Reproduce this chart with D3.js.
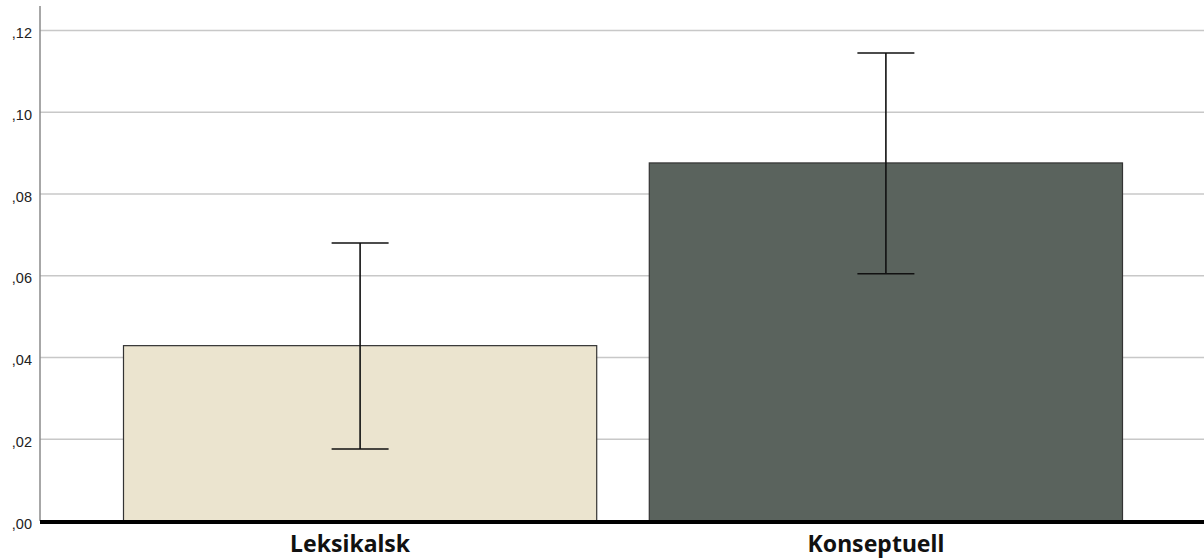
<!DOCTYPE html>
<html>
<head>
<meta charset="utf-8">
<script src="https://cdn.jsdelivr.net/npm/d3@7"></script>
<style>
  html, body { margin: 0; padding: 0; background: #fff; }
  svg { display: block; }
</style>
</head>
<body>
<svg id="chart" width="1204" height="560"></svg>
<script>
const categories = ["Leksikalsk", "Konseptuell"];
const means = [0.0429, 0.0876];
const lowerCI = [0.0176, 0.0605];
const upperCI = [0.0680, 0.1145];
const barColors = ["#ebe4cf", "#5a635d"];
const yTicks = [0, 0.02, 0.04, 0.06, 0.08, 0.10, 0.12];
const yTickLabels = [",00", ",02", ",04", ",06", ",08", ",10", ",12"];

const svg = d3.select("#chart");
const plotLeft = 40, plotRight = 1204, plotTop = 6, baseY = 521;

const y = d3.scaleLinear().domain([0, 0.12]).range([baseY, 30.5]);
const x = d3.scaleBand().domain(categories).range([42, plotRight])
  .paddingInner(0.1).paddingOuter(0.155);

// gridlines
svg.append("g").selectAll("line").data(yTicks.slice(1)).join("line")
  .attr("x1", plotLeft).attr("x2", plotRight)
  .attr("y1", d => y(d)).attr("y2", d => y(d))
  .attr("stroke", "#c8c8c8").attr("stroke-width", 1.5);

// y axis line
svg.append("line").attr("x1", plotLeft).attr("x2", plotLeft)
  .attr("y1", plotTop).attr("y2", baseY)
  .attr("stroke", "#8a8a8a").attr("stroke-width", 1.5);

// y tick labels
svg.append("g").selectAll("text").data(yTicks).join("text")
  .attr("x", 32).attr("y", d => y(d) + 7.5)
  .attr("text-anchor", "end")
  .attr("font-family", "'Liberation Sans', Arial, sans-serif")
  .attr("font-size", 14.5).attr("fill", "#222")
  .text((d, i) => yTickLabels[i]);

// bars
svg.append("g").selectAll("rect").data(categories).join("rect")
  .attr("x", d => x(d)).attr("width", x.bandwidth())
  .attr("y", (d, i) => y(means[i])).attr("height", (d, i) => baseY - y(means[i]))
  .attr("fill", (d, i) => barColors[i])
  .attr("stroke", "#333").attr("stroke-width", 1.2);

// error bars
const capW = 57;
const eb = svg.append("g").attr("stroke", "#111").attr("stroke-width", 1.6);
categories.forEach((c, i) => {
  const cx = x(c) + x.bandwidth() / 2;
  eb.append("line").attr("x1", cx).attr("x2", cx)
    .attr("y1", y(upperCI[i])).attr("y2", y(lowerCI[i]));
  eb.append("line").attr("x1", cx - capW / 2).attr("x2", cx + capW / 2)
    .attr("y1", y(upperCI[i])).attr("y2", y(upperCI[i]));
  eb.append("line").attr("x1", cx - capW / 2).attr("x2", cx + capW / 2)
    .attr("y1", y(lowerCI[i])).attr("y2", y(lowerCI[i]));
});

// baseline
svg.append("line").attr("x1", plotLeft).attr("x2", plotRight)
  .attr("y1", baseY + 1).attr("y2", baseY + 1)
  .attr("stroke", "#000").attr("stroke-width", 4);

// x labels
svg.append("g").selectAll("text").data(categories).join("text")
  .attr("x", d => x(d) + x.bandwidth() / 2 - 10)
  .attr("y", 552)
  .attr("text-anchor", "middle")
  .attr("font-family", "'Noto Sans', 'Open Sans', sans-serif")
  .attr("font-weight", "bold")
  .attr("font-size", 23).attr("fill", "#111")
  .text(d => d);
</script>
</body>
</html>
